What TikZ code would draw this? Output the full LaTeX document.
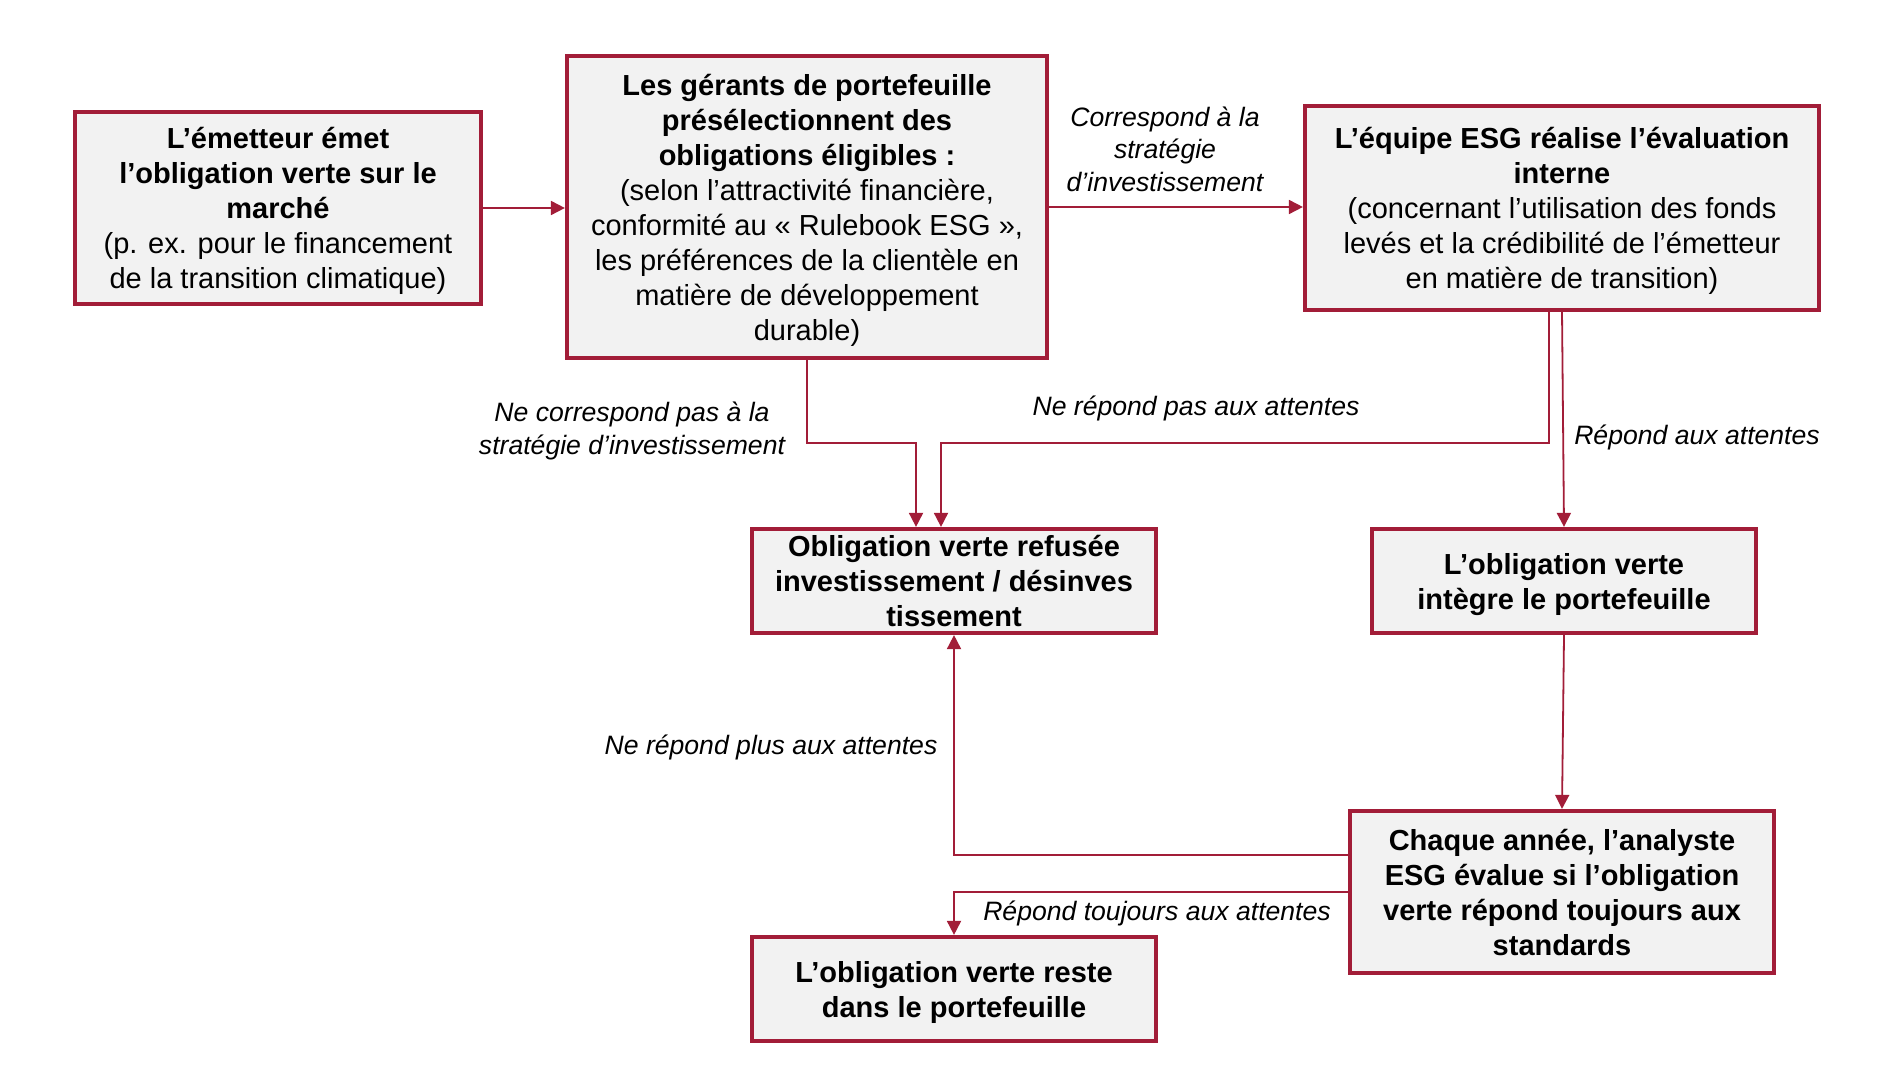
\documentclass[tikz,border=0pt]{standalone}
\usepackage{fontspec}
\setmainfont{Liberation Sans}
\usetikzlibrary{arrows.meta,calc}
\definecolor{bordeaux}{RGB}{162,29,56}
\definecolor{boxgray}{RGB}{242,242,242}

\begin{document}
\begin{tikzpicture}[x=0.5pt,y=-0.5pt,
  box/.style={draw=bordeaux, line width=2.1pt, fill=boxgray, align=center, inner sep=0pt,
    text depth=0pt, font=\fontsize{14.5}{17.5}\selectfont},
  lbl/.style={align=center, inner sep=0pt, font=\fontsize{13.3}{16.3}\selectfont\itshape},
  conn/.style={draw=bordeaux, line width=0.9pt, -{Triangle[length=7pt,width=7pt]}}]
  \useasboundingbox (0,0) rectangle (1893,1079);
  % boxes
  \node[box, minimum width=203pt, minimum height=96pt] (emet) at (278,208)
    {\textbf{L’émetteur émet}\\\textbf{l’obligation verte sur le}\\\textbf{marché}\\(p. ex. pour le financement\\de la transition climatique)};
  \node[box, minimum width=240pt, minimum height=151pt] (gerants) at (807,207)
    {\textbf{Les gérants de portefeuille}\\\textbf{présélectionnent des}\\\textbf{obligations éligibles :}\\(selon l’attractivité financière,\\conformité au « Rulebook ESG »,\\les préférences de la clientèle en\\matière de développement\\durable)};
  \node[box, minimum width=257pt, minimum height=102pt] (equipe) at (1562,208)
    {\textbf{L’équipe ESG réalise l’évaluation}\\\textbf{interne}\\(concernant l’utilisation des fonds\\levés et la crédibilité de l’émetteur\\en matière de transition)};
  \node[box, minimum width=202pt, minimum height=52pt] (refus) at (954,581)
    {\textbf{Obligation verte refusée}\\\textbf{investissement / désinves}\\\textbf{tissement}};
  \node[box, minimum width=192pt, minimum height=52pt] (integre) at (1564,581)
    {\textbf{L’obligation verte}\\\textbf{intègre le portefeuille}};
  \node[box, minimum width=212pt, minimum height=81pt] (annee) at (1562,892)
    {\textbf{Chaque année, l’analyste}\\\textbf{ESG évalue si l’obligation}\\\textbf{verte répond toujours aux}\\\textbf{standards}};
  \node[box, minimum width=202pt, minimum height=52pt] (reste) at (954,989)
    {\textbf{L’obligation verte reste}\\\textbf{dans le portefeuille}};
  % labels
  \node[lbl] (lcorr) at (1165,149) {Correspond à la\\stratégie\\d’investissement};
  \node[lbl] (lnoncorr) at (632,431) {Ne correspond pas à la\\stratégie d’investissement};
  \node[lbl] (lnonrep) at (1196,408) {Ne répond pas aux attentes};
  \node[lbl] (lrep) at (1697,437) {Répond aux attentes};
  \node[lbl] (lplus) at (771,747) {Ne répond plus aux attentes};
  \node[lbl] (ltoujours) at (1157,913) {Répond toujours aux attentes};
  % connectors
  \coordinate (k1) at (916,443);
  \coordinate (k2) at (941,443);
  \coordinate (k3) at (1549,443);
  \draw[conn] (emet.east) -- (emet.east -| gerants.west);
  \draw[conn] (gerants.east) -- (gerants.east -| equipe.west);
  \draw[conn] (gerants.south) |- (k1) -- (k1 |- refus.north);
  \draw[conn] (k3 |- equipe.south) -- (k3) -- (k2) -- (k2 |- refus.north);
  \draw[conn] (equipe.south) -- (integre.north);
  \draw[conn] (integre.south) -- (annee.north);
  \draw[conn] ($(annee.west)+(0,18.5pt)$) -| (refus.south);
  \draw[conn] (annee.west) -| (reste.north);
\end{tikzpicture}
\end{document}
